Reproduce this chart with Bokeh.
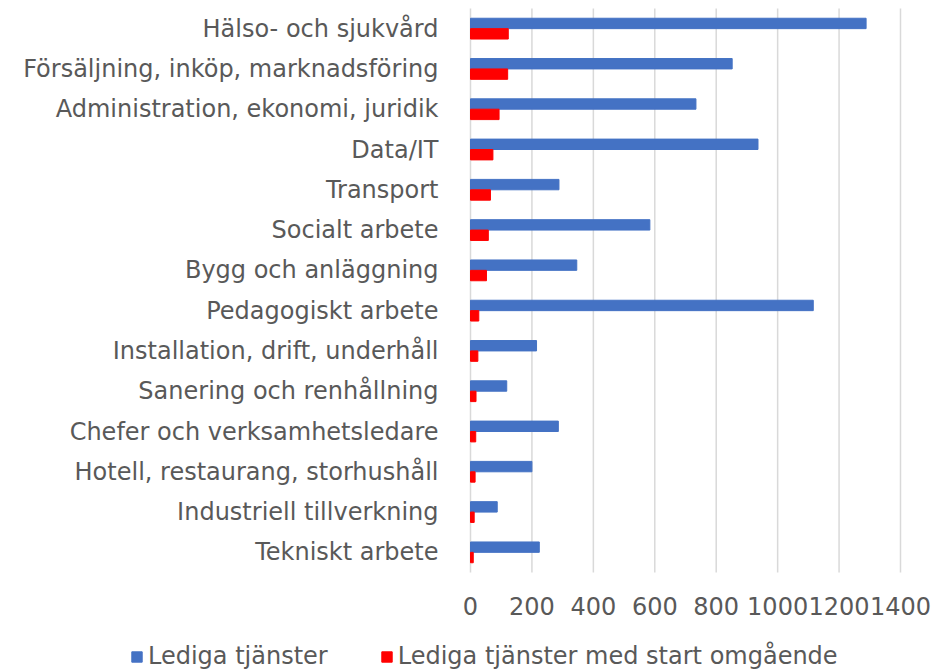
from bokeh.plotting import figure
from bokeh.models import Range1d, Legend, LegendItem, ColumnDataSource, LabelSet
from bokeh.core.properties import value
from bokeh.transform import dodge
from bokeh.embed import file_html
from bokeh.resources import INLINE

categories = [
    "Hälso- och sjukvård",
    "Försäljning, inköp, marknadsföring",
    "Administration, ekonomi, juridik",
    "Data/IT",
    "Transport",
    "Socialt arbete",
    "Bygg och anläggning",
    "Pedagogiskt arbete",
    "Installation, drift, underhåll",
    "Sanering och renhållning",
    "Chefer och verksamhetsledare",
    "Hotell, restaurang, storhushåll",
    "Industriell tillverkning",
    "Tekniskt arbete",
]
lediga = [1288, 852, 734, 936, 288, 584, 346, 1116, 215, 118, 286, 200, 87, 224]
omgaende = [123, 121, 93, 73, 65, 58, 52, 27, 24, 18, 17, 15, 12, 9]
x_ticks = [0, 200, 400, 600, 800, 1000, 1200, 1400]
tick_labels = [str(t) for t in x_ticks]

series_names = ["Lediga tjänster", "Lediga tjänster med start omgående"]
colors = ["#4472C4", "#FF0000"]

FONT = "DejaVu Sans"
TXT = "#595959"
GRID = "#D9D9D9"

# layout of the canvas (pixels)
W, H = 933, 669
PLOT_L, PLOT_R, PLOT_T, PLOT_B = 470, 900, 8, 572
XMAX = 1400
n = len(categories)
sx = (PLOT_R - PLOT_L) / XMAX          # px per value unit
sy = (PLOT_B - PLOT_T) / n             # px per category

# category slots: first category at the top
slot = [n - i - 0.5 for i in range(n)]
src = ColumnDataSource(dict(cat=categories, y=slot, a=lediga, b=omgaende))

p = figure(
    width=W, height=H,
    x_range=Range1d(-PLOT_L / sx, XMAX + (W - PLOT_R) / sx),
    y_range=Range1d(-(H - PLOT_B) / sy, n + PLOT_T / sy),
    x_axis_location=None, y_axis_location=None,
    output_backend="svg", toolbar_location=None,
    min_border_left=0, min_border_right=0, min_border_top=0, min_border_bottom=0,
)
p.outline_line_color = None
p.grid.grid_line_color = None

# vertical gridlines (the one at 0 doubles as the category axis line)
gsrc = ColumnDataSource(dict(t=x_ticks, lbl=tick_labels,
                             y0=[0] * len(x_ticks), y1=[n] * len(x_ticks)))
p.segment(x0="t", y0="y0", x1="t", y1="y1", source=gsrc, line_color=GRID, line_width=1.5)

bh = 0.258
r1 = p.hbar(y=dodge("y", bh / 2), right="a", left=0, height=bh,
            source=src, fill_color=colors[0], line_color=colors[0])
r2 = p.hbar(y=dodge("y", -bh / 2), right="b", left=0, height=bh,
            source=src, fill_color=colors[1], line_color=colors[1])

# category labels
p.add_layout(LabelSet(x=0, y="y", text="cat", source=src, x_offset=-32,
                      text_align="right", text_baseline="middle",
                      text_font=value(FONT), text_font_size=value("24px"), text_color=value(TXT)))
# value tick labels
p.add_layout(LabelSet(x="t", y=0, text="lbl", source=gsrc, y_offset=-33,
                      text_align="center", text_baseline="middle",
                      text_font=value(FONT), text_font_size=value("24px"), text_color=value(TXT)))

legend = Legend(
    items=[LegendItem(label=series_names[0], renderers=[r1]),
           LegendItem(label=series_names[1], renderers=[r2])],
    orientation="horizontal",
    location=(130, -1),
    glyph_width=13, glyph_height=13, label_standoff=5, spacing=52,
    label_height=20, padding=0, margin=0,
    label_text_font=FONT, label_text_font_size="24px", label_text_color=TXT,
    border_line_color=None, background_fill_alpha=0,
)
p.add_layout(legend, "center")

open("out.html", "w").write(file_html(p, INLINE))
